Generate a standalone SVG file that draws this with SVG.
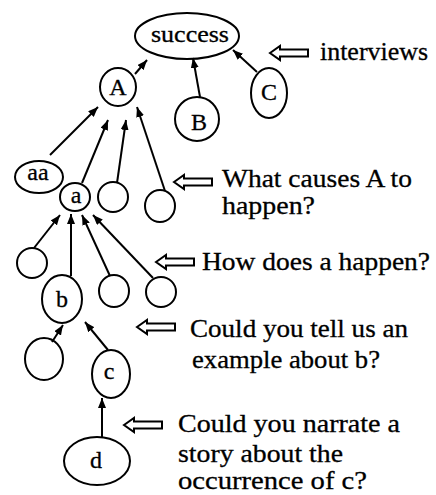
<svg xmlns="http://www.w3.org/2000/svg" width="436" height="495" viewBox="0 0 436 495">
<style>
.n{fill:none;stroke:#000;stroke-width:2}
.l{font-family:"Liberation Serif",serif;font-size:24px;fill:#000;text-anchor:middle;stroke:#000;stroke-width:0.3}
.t{font-family:"Liberation Serif",serif;font-size:25px;fill:#000;stroke:#000;stroke-width:0.3}
.e{stroke:#000;stroke-width:2;fill:none;marker-end:url(#ah)}
.h{fill:#fff;stroke:#000;stroke-width:2;stroke-linejoin:miter}
</style>
<defs>
<marker id="ah" viewBox="0 0 10 8" refX="10" refY="4" markerWidth="5" markerHeight="4" orient="auto" markerUnits="strokeWidth">
<path d="M0,0 L10,4 L0,8 Z" fill="#000"/>
</marker>
<path id="ha" d="M0,0 L10,-7 L10,-3.5 L38,-3.5 L38,3.5 L10,3.5 L10,7 Z"/>
</defs>
<g id="connectors">
<line class="e" x1="135" y1="74" x2="147" y2="60"/>
<line class="e" x1="200" y1="97" x2="193" y2="58"/>
<line class="e" x1="257" y1="72" x2="233" y2="50"/>
<line class="e" x1="50" y1="155" x2="98" y2="107"/>
<line class="e" x1="82" y1="183" x2="108" y2="120"/>
<line class="e" x1="117" y1="183" x2="126" y2="120"/>
<line class="e" x1="165" y1="191" x2="137" y2="107"/>
<line class="e" x1="34" y1="248" x2="60" y2="215"/>
<line class="e" x1="71" y1="276" x2="71" y2="214"/>
<line class="e" x1="110" y1="276" x2="82" y2="215"/>
<line class="e" x1="153" y1="278" x2="93" y2="215"/>
<line class="e" x1="52" y1="342" x2="63" y2="325"/>
<line class="e" x1="108" y1="350" x2="85" y2="322"/>
<line class="e" x1="102" y1="437" x2="102" y2="398"/>
</g>
<g id="success"><ellipse class="n" cx="187" cy="36" rx="52" ry="23"/><text class="l" x="190" y="42" textLength="78" lengthAdjust="spacingAndGlyphs">success</text></g>
<g id="A"><ellipse class="n" cx="118" cy="87" rx="18" ry="19"/><text class="l" x="118" y="95">A</text></g>
<g id="B"><ellipse class="n" cx="197" cy="119" rx="22" ry="22"/><text class="l" x="199" y="130">B</text></g>
<g id="C"><ellipse class="n" cx="269" cy="93" rx="18" ry="25"/><text class="l" x="269" y="100">C</text></g>
<g id="aa"><ellipse class="n" cx="39" cy="177" rx="24" ry="16"/><text class="l" x="38" y="180">aa</text></g>
<g id="a"><ellipse class="n" cx="75" cy="197" rx="15" ry="14"/><text class="l" x="76" y="203">a</text></g>
<g id="n1"><ellipse class="n" cx="113" cy="197" rx="15" ry="15"/></g>
<g id="n2"><ellipse class="n" cx="160" cy="206" rx="15" ry="16"/></g>
<g id="n3"><ellipse class="n" cx="32" cy="263" rx="15" ry="15"/></g>
<g id="b"><ellipse class="n" cx="62" cy="299" rx="20" ry="24"/><text class="l" x="62" y="307">b</text></g>
<g id="n4"><ellipse class="n" cx="114" cy="291" rx="15" ry="16"/></g>
<g id="n5"><ellipse class="n" cx="161" cy="292" rx="15" ry="15"/></g>
<g id="n6"><ellipse class="n" cx="44" cy="359" rx="19" ry="21"/></g>
<g id="c"><ellipse class="n" cx="111" cy="374" rx="19" ry="24"/><text class="l" x="109" y="379">c</text></g>
<g id="d"><ellipse class="n" cx="97" cy="461" rx="33" ry="24"/><text class="l" x="96" y="468">d</text></g>
<g id="q0"><use href="#ha" class="h" x="270" y="53"/><text class="t" x="320" y="60" textLength="108" lengthAdjust="spacingAndGlyphs">interviews</text></g>
<g id="q1"><use href="#ha" class="h" x="174" y="182"/><text class="t" x="222" y="187" textLength="190" lengthAdjust="spacingAndGlyphs">What causes A to</text><text class="t" x="222" y="214" textLength="93" lengthAdjust="spacingAndGlyphs">happen?</text></g>
<g id="q2"><use href="#ha" class="h" x="156" y="262"/><text class="t" x="202" y="270" textLength="228" lengthAdjust="spacingAndGlyphs">How does a happen?</text></g>
<g id="q3"><use href="#ha" class="h" x="137" y="327"/><text class="t" x="190" y="337" textLength="218" lengthAdjust="spacingAndGlyphs">Could you tell us an</text><text class="t" x="192" y="368" textLength="188" lengthAdjust="spacingAndGlyphs">example about b?</text></g>
<g id="q4"><use href="#ha" class="h" x="124" y="425"/><text class="t" x="178" y="432" textLength="222" lengthAdjust="spacingAndGlyphs">Could you narrate a</text><text class="t" x="178" y="462" textLength="165" lengthAdjust="spacingAndGlyphs">story about the</text><text class="t" x="178" y="489" textLength="189" lengthAdjust="spacingAndGlyphs">occurrence of c?</text></g>
</svg>
